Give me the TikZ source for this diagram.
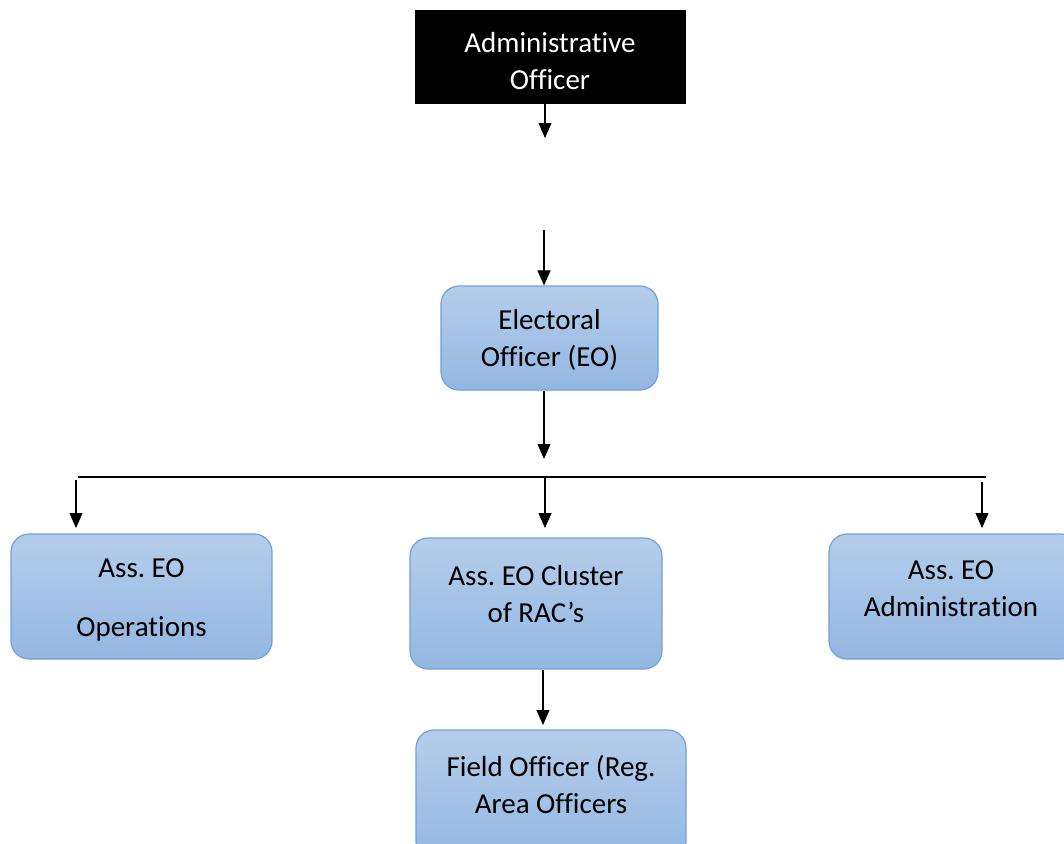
\documentclass[tikz,border=0pt]{standalone}
\usepackage{fontspec}
\setmainfont{Carlito}[Ligatures=NoCommon]
\usetikzlibrary{arrows.meta}
\definecolor{boxtop}{HTML}{B5CDEA}
\definecolor{boxbot}{HTML}{93B7E2}
\definecolor{boxline}{HTML}{6EA2DA}
\tikzset{
  orgbox/.style={draw=boxline, line width=1.2pt, rounded corners=18pt,
    top color=boxtop, bottom color=boxbot, inner sep=0pt},
  headbox/.style={fill=black, draw=black, inner sep=0pt},
  lbl/.style={align=center, inner sep=0pt, font=\fontsize{29}{37}\selectfont},
  conn/.style={line width=1.1pt, -{Triangle[width=13pt,length=15pt]}},
  plain/.style={line width=1.1pt}
}
\frenchspacing
\begin{document}
\begin{tikzpicture}[x=1pt,y=-1pt]
\useasboundingbox (0,0) rectangle (1064,843);
\clip (0,0) rectangle (1064,843);

% top of the chart
\node[headbox, minimum width=270pt, minimum height=93pt] (ao) at (550,56.5) {};
\node[lbl, text=white] (aoT) at (550,61) {Administrative\\Officer};
\coordinate (aoEnd) at (545,138);
\draw[conn] (ao.south -| aoEnd) -- (aoEnd);

% electoral officer
\node[orgbox, minimum width=217pt, minimum height=104pt] (eo) at (549.5,338) {};
\node[lbl] (eoT) at (549.5,340) {Electoral\\Officer (EO)};
\coordinate (eoIn) at (544,230);
\draw[conn] (eoIn) -- (eoIn |- eo.north);
\coordinate (eoEnd) at (544,459);
\draw[conn] (eo.south -| eoEnd) -- (eoEnd);

% distribution bar
\coordinate (barL) at (78,477);
\coordinate (barR) at (986,477);
\draw[plain] (barL) -- (barR);

% second level
\node[orgbox, minimum width=261pt, minimum height=125pt] (ops) at (141.5,596.5) {};
\node[lbl] (opsT) at (141.5,600) {Ass. EO\\[22pt]Operations};
\node[orgbox, minimum width=252pt, minimum height=131pt] (clu) at (536,603.5) {};
\node[lbl] (cluT) at (536,594) {Ass. EO Cluster\\of RAC’s};
\node[orgbox, minimum width=250pt, minimum height=125pt] (adm) at (954,596.5) {};
\node[lbl] (admT) at (951,589) {Ass. EO\\Administration};

\coordinate (opsIn) at (76,480);
\coordinate (cluIn) at (545,476);
\coordinate (admIn) at (982,482);
\draw[conn] (opsIn) -- (76,528);
\draw[conn] (cluIn) -- (545,528);
\draw[conn] (admIn) -- (982,528);

% field level
\node[orgbox, minimum width=270pt, minimum height=130pt] (fo) at (551,795) {};
\node[lbl] (foT) at (551,784) {Field Officer (Reg.\\Area Officers};
\draw[conn] (clu.south -| 543,0) -- (543,725);
\end{tikzpicture}
\end{document}
